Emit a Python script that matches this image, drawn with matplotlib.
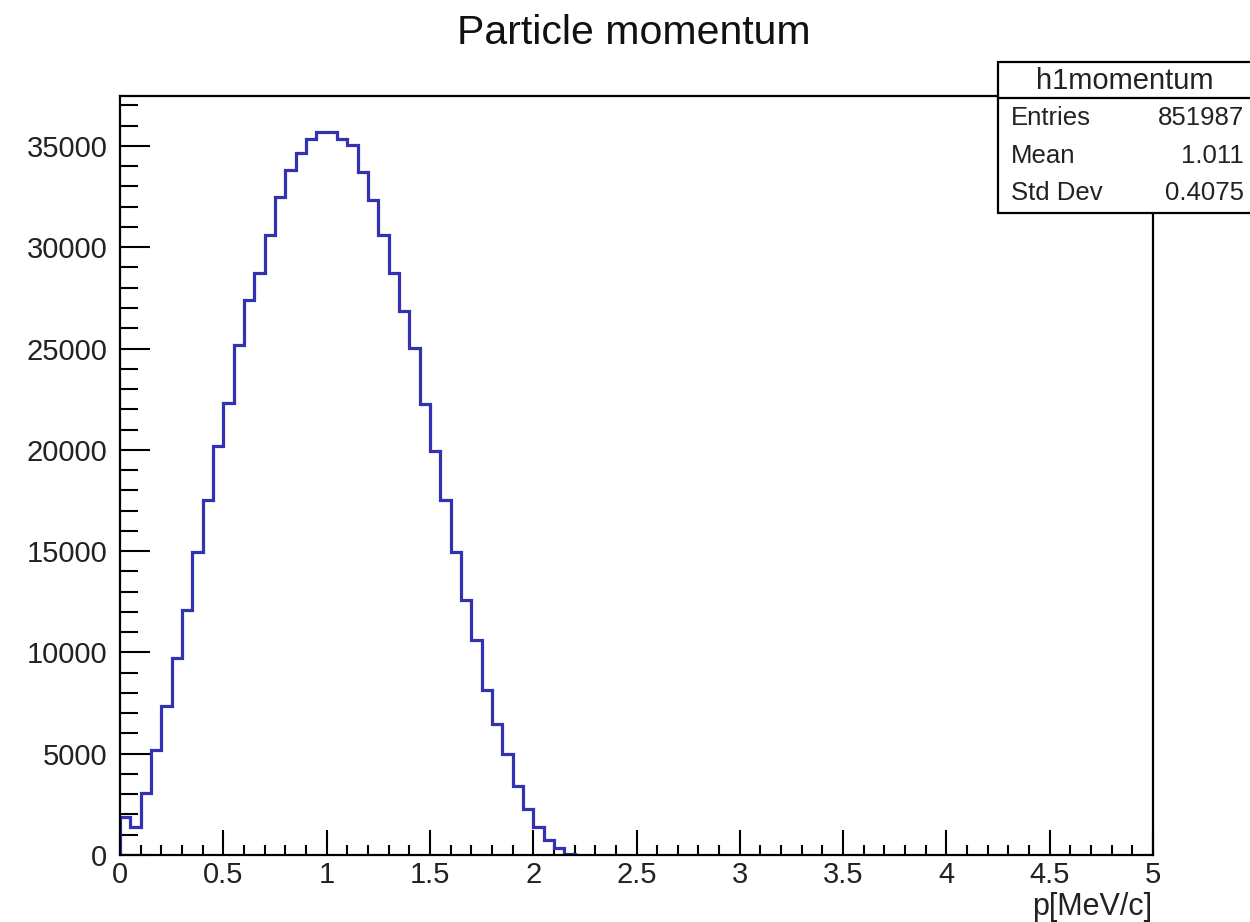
import numpy as np
import matplotlib
matplotlib.use("Agg")
import matplotlib.pyplot as plt
from matplotlib.patches import Rectangle
from matplotlib.lines import Line2D
from matplotlib.ticker import MultipleLocator, FuncFormatter

# ---- data ----
bin_edges = np.linspace(0.0, 5.0, 101)  # 100 bins of width 0.05
counts_nonzero = [1900, 1400, 3050, 5190, 7360, 9700, 12100, 14980, 17540, 20200,
                  22310, 25190, 27380, 28730, 30590, 32470, 33800, 34660, 35350, 35680,
                  35680, 35350, 35040, 33700, 32320, 30600, 28730, 26870, 25030, 22280,
                  19920, 17500, 14980, 12600, 10590, 8150, 6470, 4970, 3410, 2260,
                  1400, 740, 330, 50]
counts = np.zeros(100)
counts[:len(counts_nonzero)] = counts_nonzero

title = "Particle momentum"
xlabel = "p[MeV/c]"
stats_name = "h1momentum"
stats_labels = ["Entries", "Mean", "Std Dev"]
stats_values = ["851987", "1.011", "0.4075"]

FONT = "Liberation Sans"
W, H = 1250, 922
fig = plt.figure(figsize=(W / 100, H / 100), dpi=100)
fig.patch.set_facecolor("white")

def fx(px):
    return px / W

def fy(py):
    return 1 - py / H

ax_left, ax_right, ax_top, ax_bottom = 120, 1153, 96, 855
ax = fig.add_axes([fx(ax_left), fy(ax_bottom), fx(ax_right - ax_left), (ax_bottom - ax_top) / H])

last = int(np.nonzero(counts)[0].max()) + 1
ax.stairs(counts[:last], bin_edges[:last + 1], color="#3232b2", linewidth=2.3, zorder=2)

ax.set_xlim(0, 5)
ax.set_ylim(0, 1.05 * counts.max())

ax.xaxis.set_major_locator(MultipleLocator(0.5))
ax.xaxis.set_minor_locator(MultipleLocator(0.1))
ax.yaxis.set_major_locator(MultipleLocator(5000))
ax.yaxis.set_minor_locator(MultipleLocator(1000))
ax.xaxis.set_major_formatter(FuncFormatter(lambda v, p: f"{v:g}"))
ax.yaxis.set_major_formatter(FuncFormatter(lambda v, p: f"{v:g}"))

ax.tick_params(axis="x", which="major", direction="in", length=18, width=1.5, pad=4,
               labelsize=21, top=False)
ax.tick_params(axis="x", which="minor", direction="in", length=7.5, width=1.5, top=False)
ax.tick_params(axis="y", which="major", direction="in", length=21.5, width=1.5, pad=9,
               labelsize=21, right=False)
ax.tick_params(axis="y", which="minor", direction="in", length=13, width=1.5, right=False)
for lab in ax.get_xticklabels() + ax.get_yticklabels():
    lab.set_fontfamily(FONT)
    lab.set_color("#222222")
for sp in ax.spines.values():
    sp.set_linewidth(1.6)
    sp.set_color("black")
    sp.set_zorder(3)

# title
fig.text(fx(634), fy(33), title, ha="center", va="center", fontsize=29.5,
         family=FONT, color="#111111")
# x axis label
fig.text(fx(1152), fy(907), xlabel, ha="right", va="center", fontsize=22,
         family=FONT, color="#222222")

# stats box
bx0, bx1, by0, by1 = 998, 1262, 62, 213
fig.patches.append(Rectangle((fx(bx0), fy(by1)), fx(bx1 - bx0), (by1 - by0) / H,
                             transform=fig.transFigure, facecolor="white",
                             edgecolor="black", linewidth=1.6, zorder=5))
fig.lines.append(Line2D([fx(bx0), fx(bx1)], [fy(98), fy(98)], transform=fig.transFigure,
                        color="black", linewidth=1.6, zorder=6))
fig.text(fx(1125), fy(81), stats_name, ha="center", va="center", fontsize=21,
         family=FONT, color="#222222", zorder=7)
row_y = [118, 156, 193]
for lab, val, yy in zip(stats_labels, stats_values, row_y):
    fig.text(fx(1011), fy(yy), lab, ha="left", va="center", fontsize=18.5,
             family=FONT, color="#222222", zorder=7)
    fig.text(fx(1244), fy(yy), val, ha="right", va="center", fontsize=18.5,
             family=FONT, color="#222222", zorder=7)

fig.savefig("out.png", dpi=100)
